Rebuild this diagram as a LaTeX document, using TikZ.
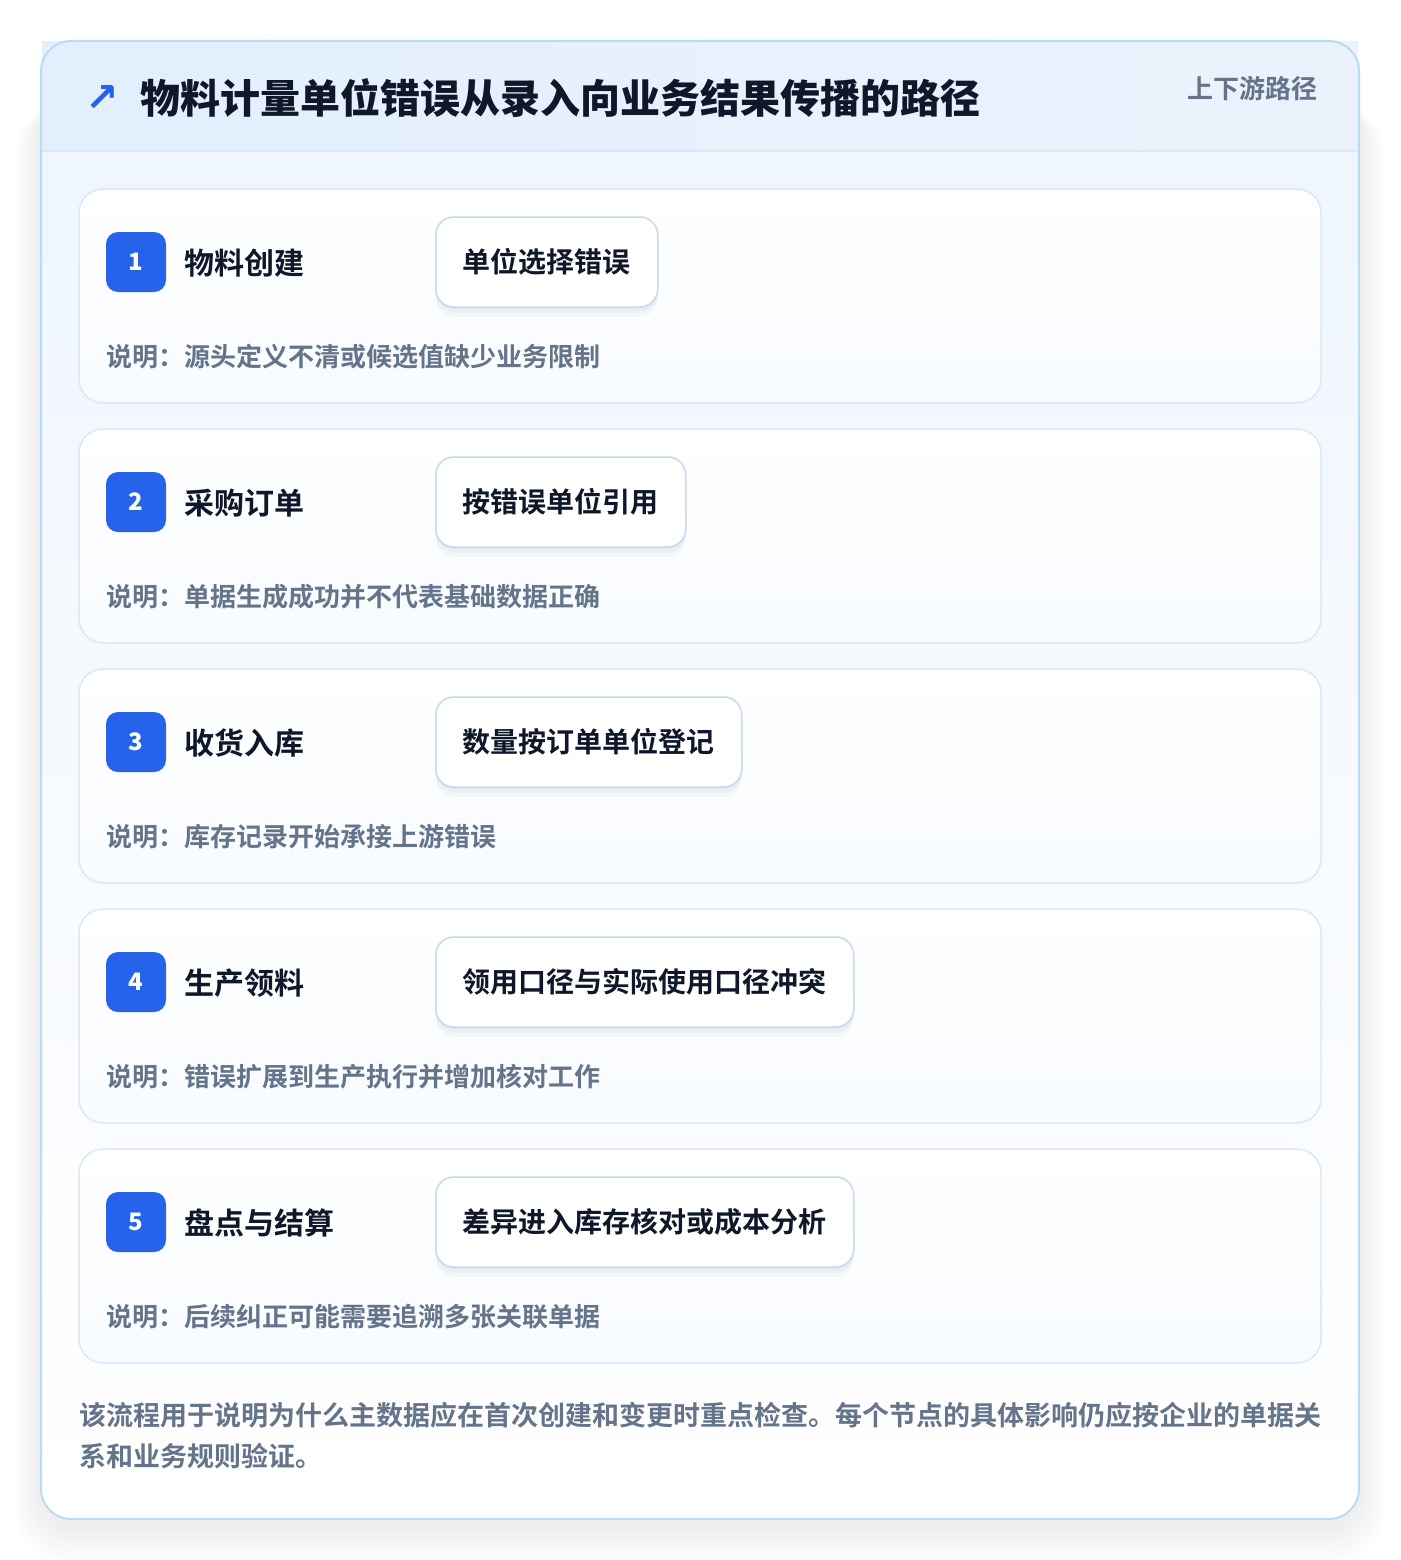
\documentclass[tikz,border=0pt]{standalone}
\usepackage{fontspec}
\newfontfamily\cjk{Noto Sans CJK SC}[BoldFont={Noto Sans CJK SC Bold}]
\newfontfamily\cjkblack{Noto Sans CJK SC Black}
\newfontfamily\sym{DejaVu Sans}
\definecolor{ink}{HTML}{0F172A}
\definecolor{slate}{HTML}{64748B}
\definecolor{badgeblue}{HTML}{2563EB}
\definecolor{cardline}{HTML}{DBE8F8}
\definecolor{pillline}{HTML}{C3D8F5}
\definecolor{outerline}{HTML}{B8DCF4}
\definecolor{headl}{HTML}{E3EFFD}
\definecolor{headr}{HTML}{ECF2FC}
\definecolor{bodytop}{HTML}{EEF5FE}
\definecolor{cardbot}{HTML}{F8FBFF}
\definecolor{shadowc}{HTML}{1E293B}
\tikzset{
  outercard/.style={rounded corners=30pt},
  stepcard/.style={draw=cardline, line width=1.5pt, rounded corners=24pt, top color=white, bottom color=cardbot},
  badge/.style={fill=badgeblue, rounded corners=12pt, minimum width=60pt, minimum height=60pt, inner sep=0pt, text=white, font=\cjkblack\fontsize{24}{24}\selectfont},
  steptitle/.style={anchor=west, inner sep=0pt, text=ink, font=\cjk\bfseries\fontsize{30}{30}\selectfont},
  pill/.style={anchor=west, draw=pillline, line width=1.5pt, rounded corners=18pt, fill=white, minimum height=90pt, inner xsep=27pt, inner ysep=0pt, text=ink, font=\cjk\bfseries\fontsize{28}{28}\selectfont,
    preaction={fill=shadowc, fill opacity=0.025, draw=none, transform canvas={yshift=-10pt}},
    preaction={fill=shadowc, fill opacity=0.03, draw=none, transform canvas={yshift=-6pt}},
    preaction={fill=shadowc, fill opacity=0.03, draw=none, transform canvas={yshift=-3pt}}},
  desc/.style={anchor=west, inner sep=0pt, text=slate, font=\cjk\bfseries\fontsize{26}{26}\selectfont},
  foot/.style={anchor=west, inner sep=0pt, text=slate, font=\cjk\bfseries\fontsize{27}{27}\selectfont},
}
\begin{document}
\begin{tikzpicture}[x=1pt,y=-1pt]
\useasboundingbox (0,0) rectangle (1400,1560);
\fill[white] (0,0) rectangle (1400,1560);
% outer shadow
\foreach \i in {1,...,16}{
  \fill[shadowc, fill opacity=0.0055, rounded corners=30pt+2*\i pt] (41-1.8*\i,101) rectangle (1359+1.8*\i,1519+8+2.5*\i);
}
% outer card body
\shade[outercard, top color=bodytop, bottom color=white] (41,41) rectangle (1359,1519);
% header
\shade[left color=headl, right color=headr] (42,42) rectangle (1358,151);
\draw[cardline, line width=1.5pt] (42,151) -- (1358,151);
\draw[outercard, outerline, line width=2pt] (41,41) rectangle (1359,1519);
% header texts
\node[inner sep=0pt, text=badgeblue, font=\sym\bfseries\fontsize{40}{40}\selectfont] (icon) at (102,99) {↗};
\node[anchor=west, inner sep=0pt, text=ink, font=\cjkblack\fontsize{40}{40}\selectfont] (title) at (140,98) {物料计量单位错误从录入向业务结果传播的路径};
\node[anchor=east, inner sep=0pt, text=slate, font=\cjk\bfseries\fontsize{26}{26}\selectfont] (tag) at (1318,89) {上下游路径};
% steps
\foreach \k/\num/\name/\pilltext/\desctext in {
  0/1/物料创建/单位选择错误/说明：源头定义不清或候选值缺少业务限制,
  1/2/采购订单/按错误单位引用/说明：单据生成成功并不代表基础数据正确,
  2/3/收货入库/数量按订单单位登记/说明：库存记录开始承接上游错误,
  3/4/生产领料/领用口径与实际使用口径冲突/说明：错误扩展到生产执行并增加核对工作,
  4/5/盘点与结算/差异进入库存核对或成本分析/说明：后续纠正可能需要追溯多张关联单据}{
  \pgfmathsetmacro{\top}{189+240*\k}
  \path[stepcard] (79,\top) rectangle (1321,\top+214);
  \node[badge] (badge\num) at (136,\top+73) {\num};
  \node[steptitle] (name\num) at (184,\top+74) {\name};
  \node[pill] (pill\num) at (435,\top+73) {\pilltext};
  \node[desc] (desc\num) at (106,\top+168) {\desctext};
}
% footer
\node[foot] (foot1) at (79,1415) {该流程用于说明为什么主数据应在首次创建和变更时重点检查。每个节点的具体影响仍应按企业的单据关};
\node[foot] (foot2) at (79,1456) {系和业务规则验证。};
\end{tikzpicture}
\end{document}
